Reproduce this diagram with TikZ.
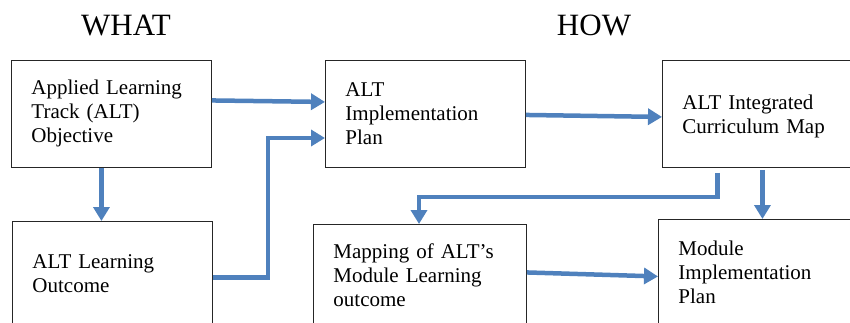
\documentclass[tikz,border=0pt]{standalone}
\usepackage{fontspec}
\setmainfont{Liberation Serif}
\usepackage{xcolor}
\definecolor{Office-blue}{RGB}{79, 129, 189}
\definecolor{Office-frame}{RGB}{38, 38, 38}
\usetikzlibrary{arrows.meta,positioning,calc}

\begin{document}
\begin{tikzpicture} [
    x=1pt, y=-1pt, font=\fontsize{21}{24}\selectfont,
    box/.style = {rectangle,draw=Office-frame,line width=0.9pt,anchor=north west,align=left,text width=160pt,inner xsep=20pt,minimum width=200pt},
    title/.style = {font=\fontsize{31}{36}\selectfont,anchor=base},
    arrow/.style = {draw=Office-blue,line width=4.5pt,-{Triangle[length=14pt,width=16pt]}}
    ]

    \useasboundingbox (0,0) rectangle (850,323);
    \clip (0,0) rectangle (850,323);

    \node (what) [title] at (126,36) {WHAT};
    \node (how) [title] at (594,36) {HOW};

    \node (obj) [box,minimum height=107pt] at (11,60) {Applied Learning\\Track (ALT)\\Objective};
    \node (outcome) [box,minimum height=105pt] at (12,221) {ALT Learning\\Outcome};

    \node (plan) [box,minimum height=107pt] at (325,60) {ALT\\Implementation\\Plan};
    \node (mapping) [box,minimum height=102pt,minimum width=213pt,text width=173pt] at (313,224) {Mapping of ALT's\\Module Learning\\outcome};

    \node (map) [box,minimum height=107pt] at (662,60) {\rule{0pt}{19pt}ALT Integrated\\Curriculum Map};
    \node (module) [box,minimum height=106pt] at (658,219) {Module\\Implementation\\Plan};

    \coordinate (bend) at (268,138);
    \coordinate (split) at (419,197);

    \draw[arrow] ([yshift=13.5pt]obj.east) -- ([yshift=12pt]plan.west);
    \draw[arrow] ([xshift=-10pt]obj.south) -- ([xshift=-10pt]obj.south |- outcome.north);
    \draw[arrow] ([yshift=-3.5pt]outcome.east) -| (bend) -- (bend -| plan.west);
    \draw[arrow] ([yshift=-1pt]plan.east) -- ([yshift=-3pt]map.west);
    \draw[arrow] ([xshift=-45pt,yshift=-5pt]map.south) |- (split) -- (split |- mapping.north);
    \draw[arrow] ([yshift=-2pt]map.south) -- (map.south |- module.north);
    \draw[arrow] ([yshift=3pt]mapping.east) -- ([yshift=-4pt]module.west);

\end{tikzpicture}
\end{document}
